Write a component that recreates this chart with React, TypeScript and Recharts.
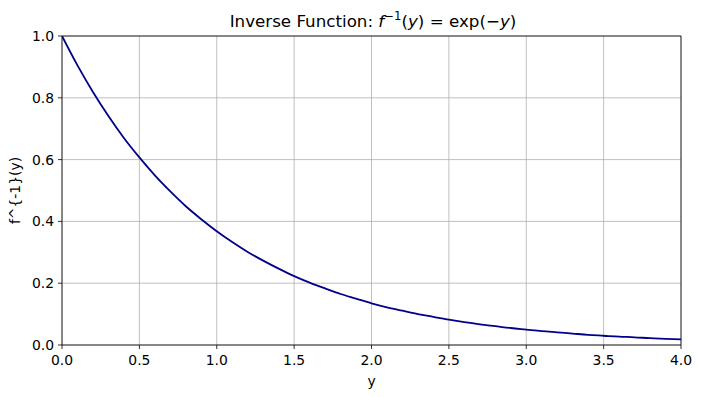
import React from "react";
import {
  LineChart,
  Line,
  XAxis,
  YAxis,
  CartesianGrid,
  ReferenceLine,
} from "recharts";

// sample points
const yValues = [
  0.0, 0.1, 0.2, 0.3, 0.4, 0.5, 0.6, 0.7, 0.8, 0.9, 1.0, 1.1, 1.2, 1.3, 1.4,
  1.5, 1.6, 1.7, 1.8, 1.9, 2.0, 2.1, 2.2, 2.3, 2.4, 2.5, 2.6, 2.7, 2.8, 2.9,
  3.0, 3.1, 3.2, 3.3, 3.4, 3.5, 3.6, 3.7, 3.8, 3.9, 4.0,
];
const inverseValues = [
  1.0, 0.905, 0.819, 0.741, 0.67, 0.607, 0.549, 0.497, 0.449, 0.407, 0.368,
  0.333, 0.301, 0.273, 0.247, 0.223, 0.202, 0.183, 0.165, 0.15, 0.135, 0.122,
  0.111, 0.1, 0.091, 0.082, 0.074, 0.067, 0.061, 0.055, 0.05, 0.045, 0.041,
  0.037, 0.033, 0.03, 0.027, 0.025, 0.022, 0.02, 0.018,
];
const xTicks = [0, 0.5, 1, 1.5, 2, 2.5, 3, 3.5, 4];
const yTicks = [0, 0.2, 0.4, 0.6, 0.8, 1.0];

const data = yValues.map((y, i) => ({ y, f: inverseValues[i] }));

const font = "DejaVu Sans";
const tickStyle = { fontFamily: font, fontSize: 13.9, fill: "#000" };

const App = () => {
  return (
    <div style={{ position: "absolute", left: 0, top: 0, width: 702, height: 397, background: "#fff" }}>
      <LineChart
        width={702}
        height={397}
        data={data}
        margin={{ top: 36, right: 21, left: 12, bottom: 22 }}
      >
        <CartesianGrid stroke="#b0b0b0" strokeWidth={0.8} />
        <XAxis
          dataKey="y"
          type="number"
          domain={[0, 4]}
          ticks={xTicks}
          allowDataOverflow
          tickFormatter={(v: number) => v.toFixed(1)}
          stroke="#000"
          strokeWidth={0.8}
          tickSize={4}
          tickMargin={6}
          height={30}
          tick={tickStyle}
          label={{
            value: "y",
            position: "center",
            dy: 21,
            style: { fontFamily: font, fontSize: 13.9, fill: "#000" },
          }}
        />
        <YAxis
          type="number"
          domain={[0, 1]}
          ticks={yTicks}
          allowDataOverflow
          tickFormatter={(v: number) => v.toFixed(1)}
          stroke="#000"
          strokeWidth={0.8}
          tickSize={4}
          tickMargin={4}
          width={50}
          tick={tickStyle}
          label={{
            value: "f^{-1}(y)",
            angle: -90,
            position: "center",
            dx: -22,
            style: { fontFamily: font, fontSize: 13.9, fill: "#000", textAnchor: "middle" },
          }}
        />
        <ReferenceLine y={1} stroke="#000" strokeWidth={0.8} />
        <ReferenceLine x={4} stroke="#000" strokeWidth={0.8} />
        <Line
          type="monotone"
          dataKey="f"
          stroke="#00008b"
          strokeWidth={1.8}
          dot={false}
          isAnimationActive={false}
        />
      </LineChart>
      <svg
        width={702}
        height={36}
        style={{ position: "absolute", left: 0, top: 0, pointerEvents: "none" }}
      >
        <text
          x={373}
          y={26.5}
          textAnchor="middle"
          fontFamily={font}
          fontSize={16.7}
          fill="#000"
        >
          <tspan>Inverse Function: </tspan>
          <tspan fontStyle="italic">f</tspan>
          <tspan fontSize={11.7} dy={-6.5}>−1</tspan>
          <tspan dy={6.5}>(</tspan>
          <tspan fontStyle="italic">y</tspan>
          <tspan>) = exp(−</tspan>
          <tspan fontStyle="italic">y</tspan>
          <tspan>)</tspan>
        </text>
      </svg>
    </div>
  );
};

export default App;
